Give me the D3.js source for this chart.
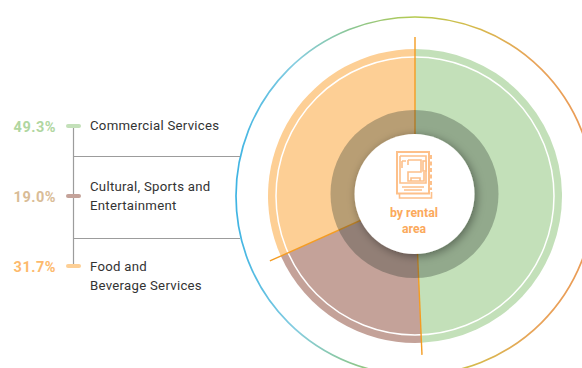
<!DOCTYPE html>
<html>
<head>
<meta charset="utf-8">
<script src="https://cdn.jsdelivr.net/npm/d3@7"></script>
<style>
  html, body { margin: 0; padding: 0; background: #fff; overflow: hidden; }
  text { font-family: Roboto, sans-serif; }
</style>
</head>
<body>
<svg id="canvas" width="582" height="368"></svg>
<script>
// chart values
let categories = ['Commercial Services', 'Cultural, Sports and Entertainment', 'Food and Beverage Services']
let shares = [49.3, 19.0, 31.7]
let labelLines = [['Commercial Services'], ['Cultural, Sports and', 'Entertainment'], ['Food and', 'Beverage Services']]
let shareLabels = ['49.3%', '19.0%', '31.7%']
let centerLines = ['by rental', 'area']

// colours
let sliceColors = ['#c3e0b9', '#c4a299', '#fdcf95']
let shareColors = ['#b0d6a0', '#d9bc96', '#fdb96c']
let ringStops = ['#3fb4e3', '#86cde0', '#8cc68e', '#b5ca4e', '#d6b94c', '#e8a45a', '#eb9a55']

let svg = d3.select('#canvas')
let cx = 415, cy = 196

let defs = svg.append('defs')

// the gradient sits on a circle inside the translated group, so x is relative to the centre
let ringGradient = defs.append('linearGradient')
    .attr('id', 'ringGradient')
    .attr('gradientUnits', 'userSpaceOnUse')
    .attr('x1', -179).attr('x2', 179)
    .attr('y1', 0).attr('y2', 0)
ringGradient.selectAll('stop')
    .data(ringStops)
    .enter()
    .append('stop')
    .attr('offset', (d, i) => i / (ringStops.length - 1))
    .attr('stop-color', (d) => d)

let shadow = defs.append('filter')
    .attr('id', 'holeShadow')
    .attr('x', '-30%').attr('y', '-30%')
    .attr('width', '160%').attr('height', '160%')
shadow.append('feDropShadow')
    .attr('dx', 2).attr('dy', 2)
    .attr('stdDeviation', 5)
    .attr('flood-color', '#000')
    .attr('flood-opacity', 0.4)

// donut
let pie = d3.pie().sort(null)
let slices = pie(shares)
let radius = d3.scaleLinear().domain([0, 1]).range([0, 147])

let chart = svg.append('g').attr('transform', 'translate(' + cx + ',' + cy + ')')

chart.append('circle')
    .attr('r', 179)
    .attr('fill', 'none')
    .attr('stroke', 'url(#ringGradient)')
    .attr('stroke-width', 1.7)

let arc = d3.arc().innerRadius(0).outerRadius(radius(1))

chart.selectAll('path.slice')
    .data(slices)
    .enter()
    .append('path')
    .attr('class', 'slice')
    .attr('d', arc)
    .attr('fill', (d, i) => sliceColors[i])

chart.append('circle')
    .attr('r', 139)
    .attr('fill', 'none')
    .attr('stroke', '#fff')
    .attr('stroke-width', 1.5)

// spokes between the slices
chart.selectAll('line.spoke')
    .data(slices)
    .enter()
    .append('line')
    .attr('class', 'spoke')
    .attr('x1', 0).attr('y1', 0)
    .attr('x2', (d) => 159 * Math.sin(d.startAngle))
    .attr('y2', (d) => -159 * Math.cos(d.startAngle))
    .attr('stroke', '#f49c22')
    .attr('stroke-width', 1.4)

// the hole sits a little above the centre of the slices
chart.append('circle')
    .attr('cx', -0.5).attr('cy', -2)
    .attr('r', 84)
    .attr('fill', '#2f3a30')
    .attr('fill-opacity', 0.33)

chart.append('circle')
    .attr('cx', -0.5).attr('cy', -2)
    .attr('r', 60)
    .attr('fill', '#fff')
    .attr('filter', 'url(#holeShadow)')

// floor plan icon
let icon = svg.append('g')
    .attr('fill', 'none')
    .attr('stroke', '#fdc08a')
    .attr('stroke-width', 1.6)
icon.append('path').attr('d', 'M397 152H429V193.5H397Z').attr('stroke-width', 2)
icon.append('path').attr('d', 'M399.5 194V198H431.5V192')
icon.append('path').attr('d', 'M431 155V190').attr('stroke-dasharray', '4 2.5').attr('stroke-width', 2)
icon.append('path').attr('d', 'M400 156V183H426V156H400')
icon.append('path').attr('d', 'M402 161H406M402 161V168M408 160H421V172H413M408 160V165M413 172H408V181H424V172')
icon.append('path').attr('d', 'M411 181V178H420V181')
icon.append('path').attr('d', 'M402 187H424M404 190H422')
icon.append('rect').attr('x', 423).attr('y', 161).attr('width', 3).attr('height', 10).attr('fill', '#fff')

// centre label
svg.selectAll('text.center')
    .data(centerLines)
    .enter()
    .append('text')
    .attr('class', 'center')
    .attr('x', 414)
    .attr('y', (d, i) => 216.5 + i * 16.5)
    .attr('text-anchor', 'middle')
    .attr('font-size', 13.5)
    .attr('font-weight', 700)
    .attr('fill', '#fba95c')
    .attr('textLength', (d, i) => i === 0 ? 48 : 24)
    .attr('lengthAdjust', 'spacingAndGlyphs')
    .text((d) => d)

// legend
let legendY = d3.scalePoint().domain(categories).range([126, 266])
let legendLineColor = '#9c9c9c'

svg.append('line')
    .attr('x1', 73.5).attr('x2', 73.5)
    .attr('y1', legendY(categories[0])).attr('y2', legendY(categories[2]))
    .attr('stroke', legendLineColor)
    .attr('stroke-width', 1.2)

let dividers = [156.5, 238.5]
svg.selectAll('line.divider')
    .data(dividers)
    .enter()
    .append('line')
    .attr('class', 'divider')
    .attr('x1', 73).attr('x2', 240)
    .attr('y1', (d) => d).attr('y2', (d) => d)
    .attr('stroke', legendLineColor)
    .attr('stroke-width', 1)

let legend = svg.selectAll('g.legend')
    .data(categories)
    .enter()
    .append('g')
    .attr('class', 'legend')
    .attr('transform', (d) => 'translate(0,' + legendY(d) + ')')

legend.append('line')
    .attr('x1', 68).attr('x2', 79)
    .attr('stroke', (d, i) => sliceColors[i])
    .attr('stroke-width', 4)
    .attr('stroke-linecap', 'round')

legend.append('text')
    .attr('x', 56)
    .attr('y', 5.5)
    .attr('text-anchor', 'end')
    .attr('font-size', 14.5)
    .attr('font-weight', 700)
    .attr('letter-spacing', 0.5)
    .attr('fill', (d, i) => shareColors[i])
    .text((d, i) => shareLabels[i])

let firstLineY = [4, -5, 5]
legend.each(function (d, i) {
    d3.select(this).selectAll('text.name')
        .data(labelLines[i])
        .enter()
        .append('text')
        .attr('class', 'name')
        .attr('x', 90)
        .attr('y', (t, j) => firstLineY[i] + j * 18.5)
        .attr('font-size', 13.2)
        .attr('letter-spacing', 0.28)
        .attr('fill', '#333')
        .text((t) => t)
})
</script>
</body>
</html>
